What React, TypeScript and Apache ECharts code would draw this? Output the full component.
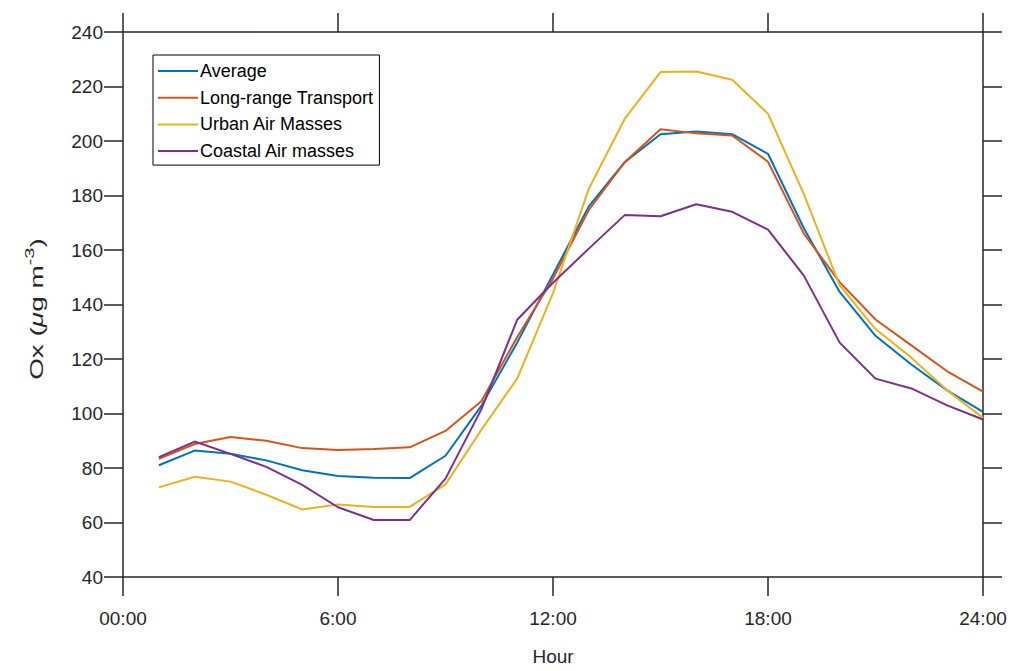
import React, { useEffect, useRef } from "react";
import * as echarts from "echarts";

const hours = [1, 2, 3, 4, 5, 6, 7, 8, 9, 10, 11, 12, 13, 14, 15, 16, 17, 18, 19, 20, 21, 22, 23, 24];
const average = [81, 86.4, 85.2, 82.8, 79.2, 77.1, 76.4, 76.3, 84.5, 102.8, 126, 151, 176, 192.2, 202.5, 203.5, 202.5, 195.3, 168, 144.6, 128.5, 118, 108.5, 100.6];
const longRange = [83.4, 88.8, 91.4, 90, 87.3, 86.6, 87, 87.6, 93.6, 104.5, 128, 149.5, 174.7, 192.2, 204.3, 202.8, 202, 192.4, 166, 148.2, 134.5, 125, 115.5, 108];
const urban = [72.9, 76.8, 75, 70.2, 64.8, 66.6, 65.7, 65.7, 74, 94, 112.8, 144.2, 182.5, 208.1, 225.3, 225.5, 222.5, 210, 180.5, 147, 131, 120.5, 108.5, 98.4];
const coastal = [84, 89.7, 85.2, 80.4, 73.8, 65.6, 60.9, 60.9, 76.1, 101.5, 134.4, 148, 160.5, 172.8, 172.4, 176.8, 174, 167.5, 150.6, 126, 112.8, 109.2, 103, 97.8];
const seriesNames = ["Average", "Long-range Transport", "Urban Air Masses", "Coastal Air masses"];
const seriesColors = ["#0072BD", "#D95319", "#EDB120", "#7E2F8E"];
const xTickLabels: Record<number, string> = { 0: "00:00", 6: "6:00", 12: "12:00", 18: "18:00", 24: "24:00" };

const FONT = "'Liberation Sans', Arial, sans-serif";
const AXIS_COLOR = "#262626";

export default function App() {
  const ref = useRef<HTMLDivElement>(null);
  useEffect(() => {
    if (!ref.current) return;
    const chart = echarts.init(ref.current, undefined, { renderer: "svg" });
    const datasets = [average, longRange, urban, coastal];
    const axisLine = { show: true, onZero: false, lineStyle: { color: AXIS_COLOR, width: 1.5 } };
    const axisTick = { show: true, inside: false, length: 19, lineStyle: { color: AXIS_COLOR, width: 1.5 } };
    chart.setOption({
      animation: false,
      backgroundColor: "#ffffff",
      textStyle: { fontFamily: FONT },
      grid: { left: 123, right: 32, top: 32, bottom: 84, containLabel: false },
      graphic: [
        {
          type: "text",
          x: 37,
          y: 309,
          rotation: Math.PI / 2,
          scaleX: 1.55,
          scaleY: 1,
          style: {
            text: "{a|Ox (}{i|μ}{a|g m}{s|-3}{a|)}",
            align: "center",
            verticalAlign: "middle",
            fill: AXIS_COLOR,
            fontFamily: FONT,
            fontSize: 18,
            rich: {
              a: { fontFamily: FONT, fontSize: 18, fill: AXIS_COLOR },
              i: { fontFamily: FONT, fontSize: 18, fontStyle: "italic", fill: AXIS_COLOR },
              s: { fontFamily: FONT, fontSize: 13, fill: AXIS_COLOR, padding: [0, 0, 14, 0] },
            },
          },
        },
      ],
      legend: {
        orient: "vertical",
        left: 153,
        top: 55,
        padding: [7, 6, 5, 5],
        borderColor: "#000000",
        borderWidth: 1,
        backgroundColor: "#ffffff",
        icon: "rect",
        itemWidth: 40,
        itemHeight: 2,
        itemGap: 8.7,
        itemStyle: { borderWidth: 0 },
        textStyle: { fontFamily: FONT, fontSize: 18, color: "#000000", padding: [0, 0, 0, -3], lineHeight: 18 },
        data: seriesNames,
      },
      xAxis: [
        {
          type: "value",
          min: 0,
          max: 24,
          interval: 6,
          position: "bottom",
          name: "Hour",
          nameLocation: "middle",
          nameGap: 70,
          nameTextStyle: { fontFamily: FONT, fontSize: 19, color: AXIS_COLOR },
          axisLine,
          axisTick,
          splitLine: { show: false },
          axisLabel: {
            margin: 41,
            fontFamily: FONT,
            fontSize: 19,
            color: AXIS_COLOR,
            verticalAlign: "middle",
            formatter: (v: number) => xTickLabels[v] ?? String(v),
          },
        },
        {
          type: "value",
          min: 0,
          max: 24,
          interval: 6,
          position: "top",
          axisLine,
          axisTick,
          splitLine: { show: false },
          axisLabel: { show: false },
        },
      ],
      yAxis: [
        {
          type: "value",
          min: 40,
          max: 240,
          interval: 20,
          position: "left",
          axisLine,
          axisTick,
          splitLine: { show: false },
          axisLabel: { margin: 20, fontFamily: FONT, fontSize: 19, color: AXIS_COLOR },
        },
        {
          type: "value",
          min: 40,
          max: 240,
          interval: 20,
          position: "right",
          axisLine,
          axisTick,
          splitLine: { show: false },
          axisLabel: { show: false },
        },
      ],
      series: seriesNames.map((name, i) => ({
        name,
        type: "line",
        xAxisIndex: 0,
        yAxisIndex: 0,
        symbol: "none",
        color: seriesColors[i],
        lineStyle: { color: seriesColors[i], width: 2 },
        data: hours.map((h, j) => [h, datasets[i][j]]),
      })),
    });
    return () => chart.dispose();
  }, []);
  return <div ref={ref} style={{ position: "fixed", left: 0, top: 0, width: 1015, height: 671 }} />;
}
